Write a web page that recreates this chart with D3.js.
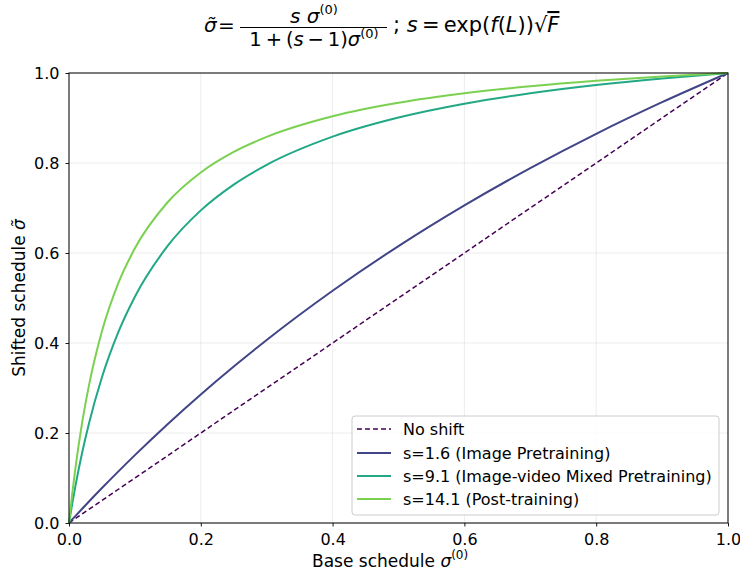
<!DOCTYPE html>
<html><head><meta charset="utf-8">
<script src="https://cdn.jsdelivr.net/npm/d3@7"></script>
<style>body{margin:0;background:#fff;} svg{display:block;font-family:"DejaVu Sans",sans-serif;}</style>
</head><body>
<svg id="c" width="740" height="573"></svg>
<script>
const xs = [0,0.005,0.01,0.02,0.03,0.05,0.075,0.1,0.15,0.2,0.25,0.3,0.4,0.5,0.6,0.7,0.8,0.9,1.0];
const noShift = [0,0.005,0.01,0.02,0.03,0.05,0.075,0.1,0.15,0.2,0.25,0.3,0.4,0.5,0.6,0.7,0.8,0.9,1.0];
const s16  = [0,0.0080,0.0159,0.0316,0.0472,0.0777,0.1148,0.1509,0.2202,0.2857,0.3478,0.4068,0.5161,0.6154,0.7059,0.7887,0.8649,0.9351,1.0];
const s91  = [0,0.0437,0.0842,0.1566,0.2196,0.3238,0.4246,0.5028,0.6163,0.6947,0.7521,0.7959,0.8585,0.9010,0.9317,0.9550,0.9733,0.9879,1.0];
const s141 = [0,0.0662,0.1247,0.2235,0.3037,0.4260,0.5334,0.6104,0.7133,0.7790,0.8246,0.8580,0.9038,0.9338,0.9549,0.9705,0.9826,0.9922,1.0];
const seriesNames = ["No shift","s=1.6 (Image Pretraining)","s=9.1 (Image-video Mixed Pretraining)","s=14.1 (Post-training)"];
const tickVals = [0,0.2,0.4,0.6,0.8,1.0];
const tickLabels = ["0.0","0.2","0.4","0.6","0.8","1.0"];

const colors = ["#440154","#414487","#22a884","#7ad151"];
const dashes = ["5,3",null,null,null];
const widths = [1.5,2,2,2];
const series = [noShift,s16,s91,s141];

const svg = d3.select("#c");
const L=69,R=728,T=73,B=523;
const x = d3.scaleLinear().domain([0,1]).range([L,R]);
const y = d3.scaleLinear().domain([0,1]).range([B,T]);

// grid
const g = svg.append("g");
tickVals.forEach(v=>{
  g.append("line").attr("x1",x(v)).attr("x2",x(v)).attr("y1",T).attr("y2",B).attr("stroke","#b0b0b0").attr("stroke-opacity",0.3).attr("stroke-width",0.8);
  g.append("line").attr("y1",y(v)).attr("y2",y(v)).attr("x1",L).attr("x2",R).attr("stroke","#b0b0b0").attr("stroke-opacity",0.3).attr("stroke-width",0.8);
});

// lines
const line = d3.line().x((d,i)=>x(xs[i])).y(d=>y(d)).curve(d3.curveMonotoneX);
series.forEach((s,k)=>{
  svg.append("path").datum(s).attr("d",line).attr("fill","none").attr("stroke",colors[k])
    .attr("stroke-width",widths[k]).attr("stroke-dasharray",dashes[k]);
});

// axes
const fmt = (d)=>tickLabels[tickVals.indexOf(d)];
const xa = svg.append("g").attr("transform",`translate(0,${B})`).call(d3.axisBottom(x).tickValues(tickVals).tickFormat(fmt).tickSize(3.5).tickPadding(7));
const ya = svg.append("g").attr("transform",`translate(${L},0)`).call(d3.axisLeft(y).tickValues(tickVals).tickFormat(fmt).tickSize(3.5).tickPadding(6));
[xa,ya].forEach(a=>{a.select(".domain").remove(); a.selectAll("text").attr("font-size",16).attr("fill","#000").attr("font-family","DejaVu Sans"); a.selectAll("line").attr("stroke","#000").attr("stroke-width",0.9);});
svg.append("rect").attr("x",L).attr("y",T).attr("width",R-L).attr("height",B-T).attr("fill","none").attr("stroke","#000").attr("stroke-width",1);

// axis labels
const xl = svg.append("text").attr("x",312).attr("y",567).attr("text-anchor","start").attr("font-size",17);
xl.append("tspan").text("Base schedule ");
xl.append("tspan").attr("font-style","italic").text("σ");
xl.append("tspan").attr("font-size",12).attr("dy",-8).text("(0)");

const yl = svg.append("text").attr("transform",`translate(25,${(T+B)/2}) rotate(-90)`).attr("text-anchor","middle").attr("font-size",17);
yl.append("tspan").text("Shifted schedule ");
yl.append("tspan").attr("font-style","italic").text("σ̃");

// legend
const lg = svg.append("g");
lg.append("rect").attr("x",352).attr("y",416).attr("width",367).attr("height",99).attr("rx",3)
  .attr("fill","#fff").attr("fill-opacity",0.8).attr("stroke","#cccccc").attr("stroke-width",1);
const rowY = [429,453,476,499];
seriesNames.forEach((n,k)=>{
  const yy = rowY[k];
  lg.append("line").attr("x1",357).attr("x2",391).attr("y1",yy).attr("y2",yy).attr("stroke",colors[k]).attr("stroke-width",widths[k]).attr("stroke-dasharray",dashes[k]);
  lg.append("text").attr("x",403).attr("y",yy+6).attr("font-size",16).text(n);
});

// title (math)
const tt = svg.append("g").attr("font-size",20);
tt.append("text").attr("x",204).attr("y",32).attr("font-style","italic").text("σ̃");
tt.append("text").attr("x",218).attr("y",32).text("=");
const num = tt.append("text").attr("x",314).attr("y",23).attr("text-anchor","middle").attr("font-size",20);
num.append("tspan").attr("font-style","italic").text("s σ");
num.append("tspan").attr("font-size",13).attr("dy",-9).text("(0)");
tt.append("line").attr("x1",240).attr("x2",387).attr("y1",27.5).attr("y2",27.5).attr("stroke","#000").attr("stroke-width",1);
const den = tt.append("text").attr("x",314).attr("y",46).attr("text-anchor","middle").attr("font-size",19.5);
den.append("tspan").text("1\u2009+\u2009(");
den.append("tspan").attr("font-style","italic").text("s");
den.append("tspan").text("\u2009−\u20091)");
den.append("tspan").attr("font-style","italic").text("σ");
den.append("tspan").attr("font-size",13).attr("dy",-8).text("(0)");
const rt = tt.append("text").attr("x",393).attr("y",32).attr("font-size",21);
rt.append("tspan").text("; ");
rt.append("tspan").attr("font-style","italic").text("s");
rt.append("tspan").text("\u2009=\u2009exp(");
rt.append("tspan").attr("font-style","italic").text("f");
rt.append("tspan").text("(");
rt.append("tspan").attr("font-style","italic").text("L");
rt.append("tspan").text("))√");
rt.append("tspan").attr("font-style","italic").attr("text-decoration","overline").text("F");
</script>
</body></html>
